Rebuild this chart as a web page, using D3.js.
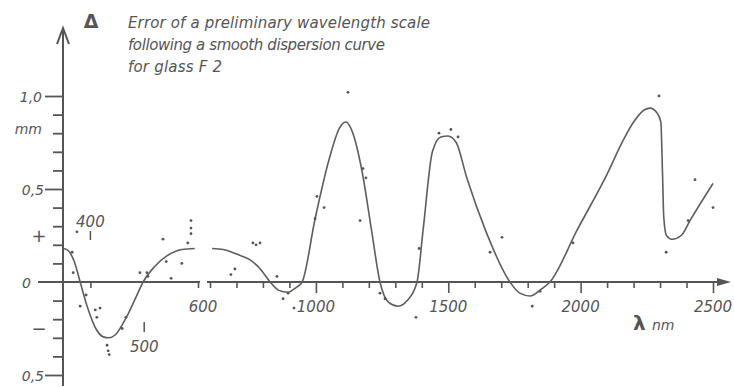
<!DOCTYPE html>
<html>
<head>
<meta charset="utf-8">
<script src="https://cdn.jsdelivr.net/npm/d3@7"></script>
<style>
  body { margin: 0; background: #fff; }
  text { font-family: "DejaVu Sans", sans-serif; font-style: italic; fill: #555; }
</style>
</head>
<body>
<div id="chart"></div>
<script>
// error of the wavelength scale (mm) against wavelength (nm), two x segments
const leftCurve = [[351,0.18],[360,0.165],[370,0.11],[381,0],[395,-0.14],[410,-0.25],[424,-0.295],[434,-0.30],[446,-0.285],[465,-0.20],[485,-0.08],[498,0],[520,0.085],[542,0.14],[570,0.175],[594,0.18]];
const rightCurve = [[608,0.18],[650,0.175],[700,0.15],[750,0.12],[790,0.07],[827,0],[860,-0.045],[895,-0.055],[925,-0.03],[948,0],[997,0.34],[1050,0.66],[1090,0.83],[1114,0.86],[1137,0.81],[1175,0.59],[1210,0.28],[1242,0],[1275,-0.11],[1310,-0.13],[1345,-0.10],[1382,0],[1405,0.28],[1440,0.70],[1472,0.78],[1499,0.785],[1530,0.75],[1570,0.56],[1640,0.28],[1733,0],[1770,-0.06],[1809,-0.075],[1850,-0.04],[1884,0],[1987,0.28],[2100,0.58],[2160,0.76],[2200,0.86],[2240,0.925],[2262,0.935],[2288,0.91],[2303,0.86],[2309,0.6],[2314,0.35],[2324,0.25],[2345,0.23],[2380,0.25],[2413,0.33],[2500,0.53]];
const leftPoints = [[375,0.27],[366,0.16],[368,0.05],[392,-0.07],[381,-0.13],[409,-0.15],[418,-0.14],[412,-0.19],[431,-0.34],[433,-0.37],[435,-0.39],[459,-0.25],[466,-0.19],[492,0.05],[505,0.05],[507,0.03],[535,0.23],[541,0.11],[570,0.10],[550,0.02],[587,0.33],[587,0.29],[587,0.26],[581,0.21]];
const rightPoints = [[762,0.21],[774,0.20],[789,0.21],[679,0.04],[694,0.07],[853,0.03],[876,-0.09],[895,-0.06],[917,-0.14],[997,0.34],[1004,0.46],[1031,0.40],[1121,1.02],[1178,0.61],[1189,0.56],[1167,0.33],[1242,-0.06],[1261,-0.09],[1378,-0.19],[1390,0.18],[1465,0.80],[1510,0.82],[1537,0.78],[1658,0.16],[1703,0.24],[1817,-0.13],[1847,-0.05],[1971,0.21],[2296,1.0],[2323,0.16],[2406,0.33],[2432,0.55],[2500,0.40]];
const yTicks = [-0.5,-0.4,-0.3,-0.2,-0.1,0.1,0.2,0.3,0.4,0.5,0.6,0.7,0.8,0.9,1.0];
const xRightTicks = d3.range(600, 2501, 100);
const xRightLabels = [1000, 1500, 2000, 2500];
const titleLines = ["Error of a preliminary wavelength scale", "following a smooth dispersion curve", "for glass F 2"];

const ink = "#555";
const svg = d3.select("#chart").append("svg").attr("width", 734).attr("height", 387);

const y = d3.scaleLinear().domain([-0.5, 1.0]).range([375, 96]);
const xL = d3.scaleLinear().domain([350, 600]).range([63.5, 198]);
const xR = d3.scaleLinear().domain([600, 2500]).range([210, 713]);
const y0 = y(0);

// y axis with arrow
svg.append("line").attr("x1", 63).attr("x2", 63).attr("y1", 386).attr("y2", 29)
  .attr("stroke", ink).attr("stroke-width", 2);
svg.append("path").attr("d", "M57,44 L63,28 L69,44").attr("fill", "none")
  .attr("stroke", ink).attr("stroke-width", 2);
const yAx = svg.append("g").attr("transform", "translate(63,0)")
  .call(d3.axisLeft(y).tickValues(yTicks).tickSize(10).tickFormat(""));
yAx.select(".domain").remove();
yAx.selectAll(".tick line").attr("stroke", ink).attr("stroke-width", 1.8)
  .attr("x2", d => (Math.abs(d) === 0.5 || d === 1.0) ? -18 : -10);

// x axis, left piece
svg.append("line").attr("x1", 38).attr("x2", 200).attr("y1", y0).attr("y2", y0)
  .attr("stroke", ink).attr("stroke-width", 2);
const xLAx = svg.append("g").attr("transform", `translate(0,${y0})`)
  .call(d3.axisBottom(xL).tickValues([400, 600]).tickSize(6).tickFormat(""));
xLAx.select(".domain").remove();
xLAx.selectAll(".tick line").attr("stroke", ink).attr("stroke-width", 1.6);

// x axis, right piece with arrow
svg.append("line").attr("x1", 207).attr("x2", 722).attr("y1", y0).attr("y2", y0)
  .attr("stroke", ink).attr("stroke-width", 2);
svg.append("path").attr("d", `M731,${y0} L717,${y0 - 4} L717,${y0 + 4} Z`).attr("fill", ink);
const xRAx = svg.append("g").attr("transform", `translate(0,${y0})`)
  .call(d3.axisBottom(xR).tickValues(xRightTicks).tickSize(6).tickFormat(""));
xRAx.select(".domain").remove();
xRAx.selectAll(".tick line").attr("stroke", ink).attr("stroke-width", 1.6)
  .attr("y2", d => d % 500 === 0 ? 11 : 6);

// axis labels
svg.selectAll(".xrl").data(xRightLabels).join("text")
  .attr("x", d => xR(d)).attr("y", 312).attr("text-anchor", "middle")
  .attr("font-size", 15).text(d => d);
svg.append("text").attr("x", 203).attr("y", 312).attr("text-anchor", "middle")
  .attr("font-size", 15).text("600");
svg.append("text").attr("x", xL(400)).attr("y", 227).attr("text-anchor", "middle")
  .attr("font-size", 15).text("400");
svg.append("line").attr("x1", xL(400)).attr("x2", xL(400)).attr("y1", 231).attr("y2", 240)
  .attr("stroke", ink).attr("stroke-width", 1.5);
svg.append("text").attr("x", xL(500)).attr("y", 352).attr("text-anchor", "middle")
  .attr("font-size", 15).text("500");
svg.append("line").attr("x1", xL(500)).attr("x2", xL(500)).attr("y1", 322).attr("y2", 332)
  .attr("stroke", ink).attr("stroke-width", 1.5);
svg.append("text").attr("x", 633).attr("y", 330).attr("font-size", 20)
  .style("font-style", "normal").attr("font-weight", "bold").text("λ");
svg.append("text").attr("x", 652).attr("y", 330).attr("font-size", 14).text("nm");

const yLab = [["1,0", 42, y(1.0) + 6], ["mm", 42, 134], ["0,5", 44, y(0.5) + 6], ["0", 31, y0 + 6], ["0,5", 44, y(-0.5) + 6]];
svg.selectAll(".ylab").data(yLab).join("text")
  .attr("x", d => d[1]).attr("y", d => d[2]).attr("text-anchor", "end")
  .attr("font-size", 14).text(d => d[0]);
svg.append("text").attr("x", 39).attr("y", y(0.25) + 6).attr("text-anchor", "middle")
  .attr("font-size", 18).style("font-style", "normal").text("+");
svg.append("text").attr("x", 39).attr("y", y(-0.25) + 6).attr("text-anchor", "middle")
  .attr("font-size", 18).style("font-style", "normal").text("−");

// title
svg.append("text").attr("x", 91).attr("y", 28).attr("text-anchor", "middle")
  .attr("font-size", 19).attr("font-weight", "bold").style("font-style", "normal").text("Δ");
const titleW = [302, 257, 94];
svg.selectAll(".title").data(titleLines).join("text")
  .attr("x", 128).attr("y", (d, i) => 28 + i * 22)
  .attr("font-size", 15).attr("textLength", (d, i) => titleW[i])
  .attr("lengthAdjust", "spacing").text(d => d);

// curves
const line = s => d3.line().x(d => s(d[0])).y(d => y(d[1])).curve(d3.curveMonotoneX);
svg.append("path").datum(leftCurve).attr("d", line(xL))
  .attr("fill", "none").attr("stroke", "#5e5e5e").attr("stroke-width", 1.6);
svg.append("path").datum(rightCurve).attr("d", line(xR))
  .attr("fill", "none").attr("stroke", "#5e5e5e").attr("stroke-width", 1.6);

// measured points
svg.selectAll(".pl").data(leftPoints).join("circle")
  .attr("cx", d => xL(d[0])).attr("cy", d => y(d[1])).attr("r", 1.4).attr("fill", "#555");
svg.selectAll(".pr").data(rightPoints).join("circle")
  .attr("cx", d => xR(d[0])).attr("cy", d => y(d[1])).attr("r", 1.4).attr("fill", "#555");
</script>
</body>
</html>
